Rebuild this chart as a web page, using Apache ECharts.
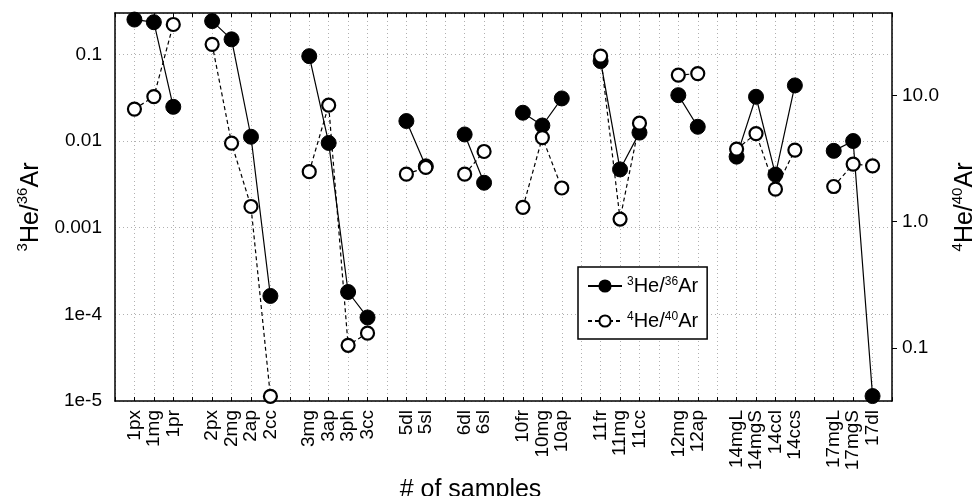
<!DOCTYPE html>
<html>
<head>
<meta charset="utf-8">
<script src="https://cdn.jsdelivr.net/npm/echarts@6/dist/echarts.min.js"></script>
<style>
html,body{margin:0;padding:0;background:#fff;}
#chart{width:977px;height:496px;}
</style>
</head>
<body>
<div id="chart"></div>
<script>
// sample names (null = empty slot between groups)
const categories = ['1px','1mg','1pr',null,'2px','2mg','2ap','2cc',null,'3mg','3ap','3ph','3cc',null,
  '5dl','5sl',null,'6dl','6sl',null,'10fr','10mg','10ap',null,'11fr','11mg','11cc',null,
  '12mg','12ap',null,'14mgL','14mgS','14ccl','14ccs',null,'17mgL','17mgS','17dl'];

// 3He/36Ar (left axis, filled circles)
const he3ar36 = [0.252,0.235,0.0248,null,0.242,0.149,0.0112,1.63e-4,null,0.0953,0.0095,1.81e-4,9.2e-5,null,
  0.017,0.0051,null,0.0119,0.0033,null,0.0212,0.0151,0.031,null,0.0836,0.0047,0.0125,null,
  0.0338,0.0146,null,0.0066,0.0324,0.0041,0.0438,null,0.0077,0.010,1.14e-5];

// 4He/40Ar (right axis, open circles)
const he4ar40 = [7.8,9.8,36.5,null,25.4,4.19,1.32,0.0414,null,2.49,8.37,0.105,0.131,null,
  2.38,2.69,null,2.38,3.6,null,1.30,4.64,1.85,null,20.5,1.05,6.03,null,
  14.5,14.9,null,3.76,4.99,1.81,3.69,null,1.90,2.86,2.77];

const leftTicks = ['1e-5','1e-4','0.001','0.01','0.1'];
const rightTicks = ['0.1','1.0','10.0'];

const FONT = "'Liberation Sans', Arial, sans-serif";
const chart = echarts.init(document.getElementById('chart'), null, {renderer:'canvas'});

const grid = '#b0b0b0';
const titleRich = {
  s: {fontSize: 15, fontFamily: FONT, color:'#000', verticalAlign:'top', lineHeight: 28},
  n: {fontSize: 25, fontFamily: FONT, color:'#000', verticalAlign:'bottom', lineHeight: 28}
};
const legendRich = {
  s: {fontSize: 12, fontFamily: FONT, color:'#000', verticalAlign:'top', lineHeight: 20},
  n: {fontSize: 20, fontFamily: FONT, color:'#000', verticalAlign:'bottom', lineHeight: 20}
};

function leftFmt(v){
  const e = Math.round(Math.log10(v));
  return e >= -3 ? leftTicks[e+5] : '1e' + e;
}
function rightFmt(v){
  const e = Math.round(Math.log10(v));
  return rightTicks[e+1] || '';
}

const option = {
  animation: false,
  backgroundColor: '#fff',
  grid: {left:115, right:85, top:13, bottom:95, containLabel:false, outerBoundsMode:'none'},
  legend: {
    left: 578, top: 267, orient: 'vertical',
    itemWidth: 34, itemHeight: 14, itemGap: 15,
    padding: [9, 9, 8, 9],
    borderColor: '#000', borderWidth: 1.5, backgroundColor:'#fff',
    data: ['3He/36Ar','4He/40Ar'],
    formatter: function(name){
      return name === '3He/36Ar' ? '{s|3}{n|He/}{s|36}{n|Ar}' : '{s|4}{n|He/}{s|40}{n|Ar}';
    },
    textStyle: {rich: legendRich}
  },
  xAxis: [{
    type:'value', min:-1, max:categories.length, interval:1, position:'bottom',
    axisLine:{show:true, onZero:false, lineStyle:{color:'#000', width:1.5}},
    axisTick:{show:true, inside:true, length:4, lineStyle:{color:'#000'}},
    axisLabel:{rotate:90, fontSize:19, fontFamily:FONT, color:'#000', margin:9,
      formatter: v => categories[v] || ''},
    splitLine:{show:true, lineStyle:{color:grid, type:[1,3], width:1}},
    name:'# of samples', nameLocation:'middle', nameGap:70,
    nameTextStyle:{fontSize:25, fontFamily:FONT, color:'#000', padding:[0,66,0,0]}
  },{
    type:'value', min:-1, max:categories.length, interval:1, position:'top',
    axisLine:{show:true, onZero:false, lineStyle:{color:'#000', width:1.5}},
    axisTick:{show:true, inside:true, length:4, lineStyle:{color:'#000'}},
    axisLabel:{show:false}, splitLine:{show:false}
  }],
  yAxis: [{
    type:'log', logBase:10, min:1e-5, max:0.3, position:'left',
    axisLine:{show:true, onZero:false, lineStyle:{color:'#000', width:1.5}},
    axisTick:{show:false},
    axisLabel:{fontSize:19, fontFamily:FONT, color:'#000', margin:13, showMaxLabel:false, formatter:leftFmt},
    splitLine:{show:true, lineStyle:{color:grid, type:[1,3], width:1}},
    name:'{s|3}{n|He/}{s|36}{n|Ar}', nameLocation:'middle', nameGap:70,
    nameTextStyle:{rich: titleRich}
  },{
    type:'log', logBase:10, min:0.038, max:45, position:'right',
    axisLine:{show:true, onZero:false, lineStyle:{color:'#000', width:1.5}},
    axisTick:{show:true, inside:false, length:5, lineStyle:{color:'#000'}},
    axisLabel:{fontSize:19, fontFamily:FONT, color:'#000', margin:10, showMinLabel:false, showMaxLabel:false, formatter:rightFmt},
    splitLine:{show:false},
    name:'{s|4}{n|He/}{s|40}{n|Ar}', nameLocation:'middle', nameGap:43,
    nameTextStyle:{rich: titleRich}
  }],
  series: [{
    name:'3He/36Ar', type:'line', xAxisIndex:0, yAxisIndex:0,
    data: he3ar36.map((v,i)=>[i, v]),
    symbol:'circle', symbolSize:15, clip:false, connectNulls:false,
    lineStyle:{color:'#000', width:1.2, type:'solid'},
    itemStyle:{color:'#000', borderColor:'#000', borderWidth:1}
  },{
    name:'4He/40Ar', type:'line', xAxisIndex:0, yAxisIndex:1,
    data: he4ar40.map((v,i)=>[i, v]),
    symbol:'circle', symbolSize:13, clip:false, connectNulls:false,
    lineStyle:{color:'#000', width:1.2, type:[4,3]},
    itemStyle:{color:'#fff', borderColor:'#000', borderWidth:2.2}
  }]
};
chart.setOption(option);
</script>
</body>
</html>
